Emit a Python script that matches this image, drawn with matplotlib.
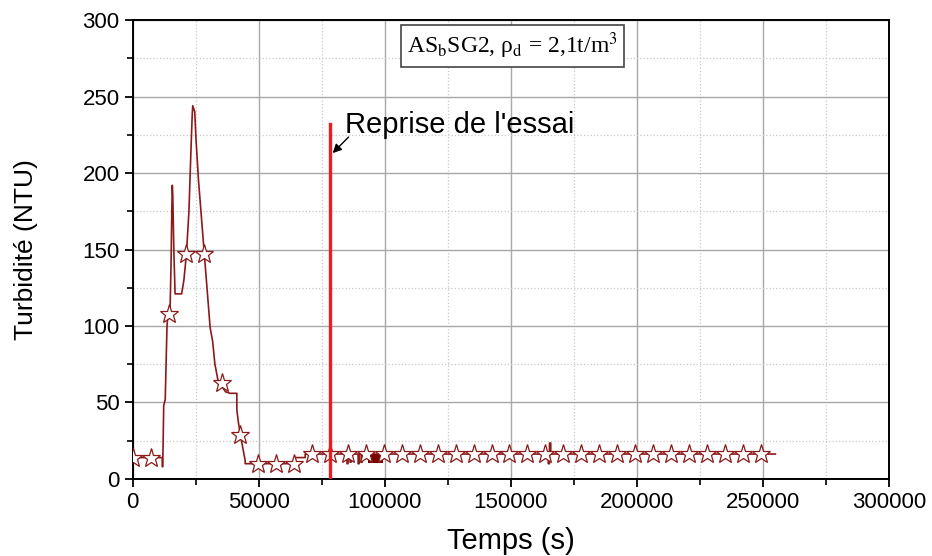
import numpy as np
import matplotlib.pyplot as plt
from matplotlib.ticker import MultipleLocator

plt.rcParams['font.family'] = ['Liberation Sans', 'DejaVu Sans']
plt.rcParams['mathtext.fontset'] = 'stix'

# courbe de turbidité (temps en s, turbidité en NTU)
temps = [0, 11700, 11750, 11900, 12300, 12600, 12900, 13300, 13600, 14000, 14800,
         15200, 15500, 15700, 15900, 16300, 16800, 19400, 20300, 21300, 22300,
         23100, 23600, 23800, 24600, 25100, 26100, 27300, 28400, 29600, 30700,
         31700, 32600, 33300, 34000, 35600, 36800, 38600, 41300, 41300, 42000,
         42600, 43700, 44600, 44600, 64400, 64400, 68400, 68400,
         85000, 85000, 85400, 85400, 86200, 86200, 86600, 86600, 87200, 87200,
         89400, 89400, 89800, 89800, 90600, 90600, 91000, 91000,
         164800, 164800, 165300, 165300, 165800, 165800, 166400, 254900]
turbidite = [14, 14, 8, 8, 48, 50, 52, 80, 100, 108, 110,
             140, 175, 192, 185, 150, 121, 121, 130, 147, 175,
             215, 238, 244, 240, 222, 195, 170, 147, 122, 99,
             90, 75, 69, 63, 60, 57, 56, 56, 45, 36,
             30, 20, 12, 10, 10, 14, 14, 16.3,
             16.3, 10, 10, 16.3, 16.3, 11, 11, 16.3, 16.3, 16.3,
             16.3, 10, 10, 16.3, 16.3, 11, 11, 16.3,
             16.3, 10, 10, 23.5, 23.5, 16.3, 16.3, 16.3]

# zone d'oscillations rapides
bloc_t = [93400, 99300]
bloc_bas = [10.3, 10.3]
bloc_haut = [16.3, 16.3]

# marqueurs étoiles
etoiles_t = [0, 7100, 14200, 21300, 28400, 35600, 42700, 49800, 56900, 64000,
             71100, 78300, 85400, 92500, 99600, 106700, 113800, 120900, 128100,
             135200, 142300, 149400, 156500, 163600, 170800, 177900, 185000,
             192100, 199200, 206300, 213400, 220600, 227700, 234800, 241900, 249000]
etoiles_y = [14, 14, 108, 147, 147, 63, 29, 10, 10, 10] + [16.3] * 26

reprise_t = 78300
reprise_haut = 232

rouge_fonce = '#8b1a1a'

fig = plt.figure(figsize=(9.32, 5.56), dpi=100)
ax = fig.add_axes([0.1424, 0.1385, 0.8116, 0.8255])

ax.plot(temps, turbidite, color=rouge_fonce, lw=1.2, zorder=3)
ax.fill_between(bloc_t, bloc_bas, bloc_haut, color='#7a0000', lw=0, zorder=3)
ax.plot(etoiles_t, etoiles_y, ls='none', marker='*', ms=14, mfc='white',
        mec=rouge_fonce, mew=0.9, zorder=4)

ax.plot([reprise_t, reprise_t], [0, reprise_haut], color='#ee1c1c', lw=2.4, zorder=5)
ax.text(84300, 226, "Reprise de l'essai", fontsize=21, va='baseline', ha='left')
ax.annotate('', xy=(79300, 213), xytext=(85600, 223.5),
            arrowprops=dict(arrowstyle='-|>', color='black', lw=1.0,
                            mutation_scale=13, shrinkA=0, shrinkB=0))

ax.text(150500, 283, r'AS$_\mathrm{b}$SG2, ρ$_\mathrm{d}$ = 2,1t/m$^3$',
        family='Liberation Serif', fontsize=17, ha='center', va='center',
        bbox=dict(boxstyle='square,pad=0.25', fc='white', ec='#444444', lw=1.2),
        zorder=6)

ax.set_xlim(0, 300000)
ax.set_ylim(0, 300)
ax.xaxis.set_major_locator(MultipleLocator(50000))
ax.xaxis.set_minor_locator(MultipleLocator(25000))
ax.yaxis.set_major_locator(MultipleLocator(50))
ax.yaxis.set_minor_locator(MultipleLocator(25))

ax.grid(which='major', color='#a8a8a8', lw=1.0, zorder=0)
ax.grid(which='minor', color='#c8c8c8', lw=0.9, ls=':', zorder=0)
ax.set_axisbelow(True)

ax.tick_params(which='major', direction='out', length=6, width=1.3, labelsize=16,
               top=False, right=False)
ax.tick_params(which='minor', direction='out', length=4, width=1.2,
               top=False, right=False)
for s in ax.spines.values():
    s.set_linewidth(1.4)

ax.set_xlabel('Temps (s)', fontsize=21, labelpad=10)
ax.set_ylabel('Turbidité (NTU)', fontsize=19, labelpad=32)

fig.savefig('out.png', dpi=100)
